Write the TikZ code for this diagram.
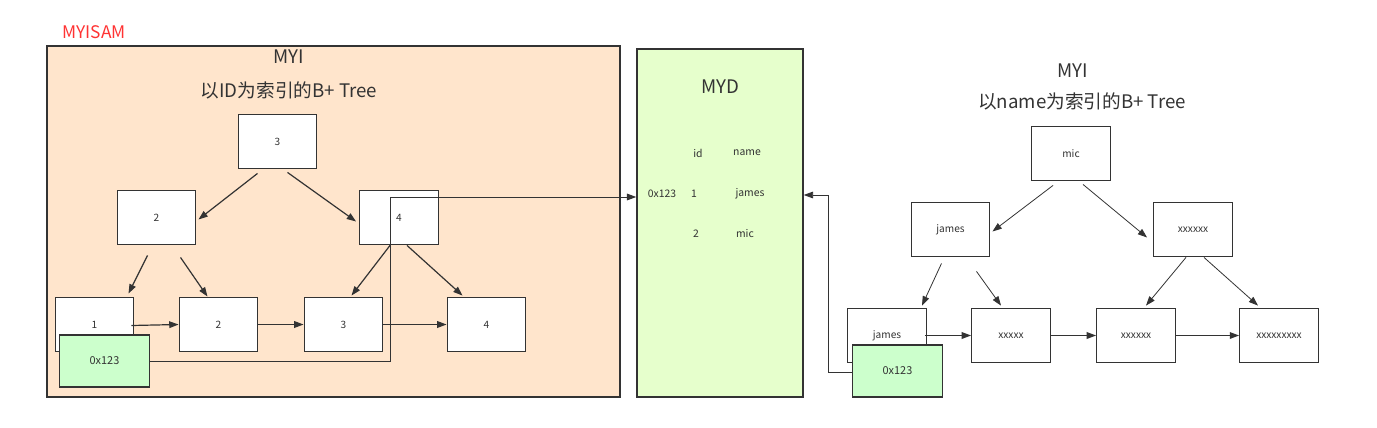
\documentclass[tikz,border=0pt]{standalone}
\usepackage{fontspec}
\setmainfont{Noto Sans CJK SC}
\usetikzlibrary{arrows.meta,calc}
\definecolor{peach}{HTML}{FFE5CC}
\definecolor{mydgreen}{HTML}{E6FFCC}
\definecolor{ptrgreen}{HTML}{CCFFCC}
\definecolor{edge}{HTML}{333333}
\definecolor{redtxt}{HTML}{FF3333}
\tikzset{
  nbox/.style={draw=edge,line width=0.9pt,fill=white,minimum width=59pt,minimum height=41pt,inner sep=0pt,font=\fontsize{7.6}{8}\selectfont,text=edge},
  gbox/.style={draw=edge,line width=0.9pt,fill=ptrgreen,minimum width=68pt,minimum height=39pt,inner sep=0pt,font=\fontsize{8.2}{9}\selectfont,text=edge},
  conn/.style={draw=edge,line width=0.9pt,-{Triangle[length=7pt,width=5pt]}},
  thin/.style={draw=edge,line width=0.6pt,-{Triangle[length=7pt,width=5pt]}},
  ttl/.style={font=\fontsize{14}{16}\selectfont,text=edge,inner sep=0pt},
  tbl/.style={font=\fontsize{7.8}{9}\selectfont,text=edge,inner sep=0pt},
}
\begin{document}
\begin{tikzpicture}[x=0.75pt,y=-0.75pt]
\useasboundingbox (0,0) rectangle (1377,428);
% containers
\node[font=\fontsize{13}{15}\selectfont,text=redtxt,inner sep=0pt] (myisam) at (94,32) {MYISAM};
\node[draw=edge,line width=1.1pt,fill=peach,minimum width=429.75pt,minimum height=263.25pt,inner sep=0pt] (myi1) at (333.5,221.5) {};
\node[draw=edge,line width=1.1pt,fill=mydgreen,minimum width=124.5pt,minimum height=261pt,inner sep=0pt] (myd) at (720,223) {};
% left titles
\node[ttl] (t1a) at (289,57) {MYI};
\node[ttl] (t1b) at (289,90) {以ID为索引的B+ Tree};
% MYD content
\node[ttl] (mydt) at (720,87) {MYD};
\node[tbl] (hid) at (698,153) {id};
\node[tbl] (hname) at (747,153) {name};
\node[tbl] (r1a) at (662,194) {0x123};
\node[tbl] (r1b) at (694,194) {1};
\node[tbl] (r1c) at (750,194) {james};
\node[tbl] (r2b) at (696,234) {2};
\node[tbl] (r2c) at (745,234) {mic};
% left tree
\node[nbox] (a3) at (277.5,141.5) {3};
\node[nbox] (a2) at (156.5,217.5) {2};
\node[nbox] (a4) at (399,217.5) {4};
\node[nbox] (l1) at (94.5,324.5) {1};
\node[nbox] (l2) at (218.5,324.5) {2};
\node[nbox] (l3) at (343.5,324.5) {3};
\node[nbox] (l4) at (486.5,324.5) {4};
\node[gbox] (g1) at (104.5,361) {0x123};
\draw[conn] ($(a3.south)+(-20,4)$) -- ($(a2.east)+(2,2)$);
\draw[conn] ($(a3.south)+(10,3)$) -- ($(a4.west)+(-3,4)$);
\draw[conn] ($(a2.south)+(-9,10)$) -- ($(l1.north)+(34,-3)$);
\draw[conn] ($(a2.south)+(24,12)$) -- ($(l2.north)+(-11,0)$);
\draw[conn] ($(a4.south)+(-9,0)$) -- ($(l3.north)+(8,-1)$);
\draw[conn] ($(a4.south)+(8,0)$) -- ($(l4.north)+(-24,-1)$);
\draw[conn] ($(l1.east)+(-3,1)$) -- (l2.west);
\draw[conn] (l2.east) -- (l3.west);
\draw[conn] (l3.east) -- (l4.west);
\coordinate (c1) at (390,361);
\coordinate (c2) at (390,197);
\draw[conn,line width=0.75pt] (g1.east) -- (c1) -- (c2) -- (myd.west |- c2);
% right titles
\node[ttl] (t2a) at (1073,71) {MYI};
\node[ttl] (t2b) at (1082,101) {以name为索引的B+ Tree};
% right tree
\node[nbox] (bm) at (1071,153.5) {mic};
\node[nbox] (bj) at (950.5,229.5) {james};
\node[nbox] (bx) at (1193,229.5) {xxxxxx};
\node[nbox] (m1) at (887,335.5) {james};
\node[nbox] (m2) at (1011,335.5) {xxxxx};
\node[nbox] (m3) at (1136,335.5) {xxxxxx};
\node[nbox] (m4) at (1279,335.5) {xxxxxxxxx};
\node[gbox] (g2) at (897.5,371) {0x123};
\draw[thin] ($(bm.south)+(-18,4)$) -- ($(bj.east)+(2,2)$);
\draw[thin] ($(bm.south)+(12,3)$) -- ($(bx.west)+(-6,8)$);
\draw[thin] ($(bj.south)+(-9,6)$) -- ($(m1.north)+(35,-2)$);
\draw[thin] ($(bj.south)+(26,14)$) -- ($(m2.north)+(-10,-2)$);
\draw[thin] ($(bx.south)+(-7,0)$) -- ($(m3.north)+(10,-2)$);
\draw[thin] ($(bx.south)+(11,0)$) -- ($(m4.north)+(-21,-2)$);
\draw[conn] ($(m1.east)+(-2,0)$) -- (m2.west);
\draw[conn] (m2.east) -- (m3.west);
\draw[conn] (m3.east) -- (m4.west);
\coordinate (d1) at (828,372);
\coordinate (d2) at (828,195);
\draw[thin] (g2.west |- d1) -- (d1) -- (d2) -- (myd.east |- d2);
\end{tikzpicture}
\end{document}
